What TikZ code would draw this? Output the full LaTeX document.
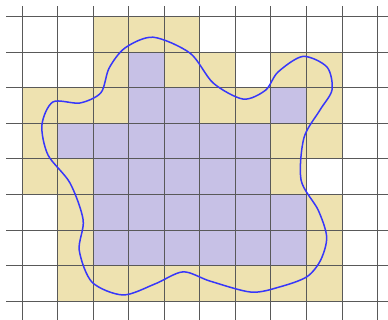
\documentclass[tikz,border=0pt]{standalone}
\usepackage{tikz}
\definecolor{mytan}{RGB}{238,226,176}
\definecolor{mypurple}{RGB}{199,193,230}
\definecolor{myblue}{RGB}{55,55,250}
\tikzset{
	tancell/.style={
			fill=mytan,
			draw=none
		},
	purplecell/.style={
			fill=mypurple,
			draw=none
		},
	gridline/.style={
			draw=black!65,
			line width=0.6pt
		},
	blobline/.style={
			draw=myblue,
			line width=1.2pt
		}
}

\begin{document}
\begin{tikzpicture}
				\useasboundingbox (-0.619,-0.534) rectangle (10.295,8.467);

				% outer cells
				\foreach \c/\r in {2/7,3/7,4/7,
						2/6,4/6,5/6,7/6,8/6,
						0/5,1/5,2/5,5/5,6/5,8/5,
						0/4,7/4,8/4,
						0/3,1/3,7/3,
						1/2,8/2,1/1,8/1,
						1/0,2/0,3/0,4/0,5/0,6/0,7/0,8/0}
					\fill[tancell] (\c,\r) rectangle ++(1,1);

				% inner cells
				\foreach \c/\r in {3/6,3/5,4/5,7/5}
					\fill[purplecell] (\c,\r) rectangle ++(1,1);
				\foreach \c in {1,...,6}
					\fill[purplecell] (\c,4) rectangle ++(1,1);
				\foreach \c in {2,...,6}
					\fill[purplecell] (\c,3) rectangle ++(1,1);
				\foreach \r in {1,2}
					\foreach \c in {2,...,7}
						\fill[purplecell] (\c,\r) rectangle ++(1,1);

				% grid
				\foreach \x in {0,...,10}
					\draw[gridline] (\x,-0.6) -- (\x,8.30);
				\foreach \y in {0,...,8}
					\draw[gridline] (-0.45,\y) -- (10.4,\y);

				% the blob
				\draw[blobline] plot[smooth cycle, tension=0.5] coordinates {
						(3.69,7.42) (4.73,6.97) (5.38,6.13) (6.22,5.68) (6.85,5.93)
						(7.20,6.44) (7.90,6.88) (8.58,6.58) (8.72,5.94) (8.38,5.37)
						(7.93,4.59) (7.85,3.40) (8.33,2.56) (8.57,1.80) (8.40,1.15)
						(8.01,0.68) (7.26,0.40) (6.45,0.25) (5.29,0.56) (4.53,0.82)
						(3.74,0.48) (2.84,0.17) (1.97,0.53) (1.61,1.43) (1.72,2.28)
						(1.35,3.32) (0.73,4.11) (0.56,4.95) (0.87,5.60) (1.63,5.57)
						(2.22,5.86) (2.45,6.55) (2.90,7.12)};
			\end{tikzpicture}
\end{document}
